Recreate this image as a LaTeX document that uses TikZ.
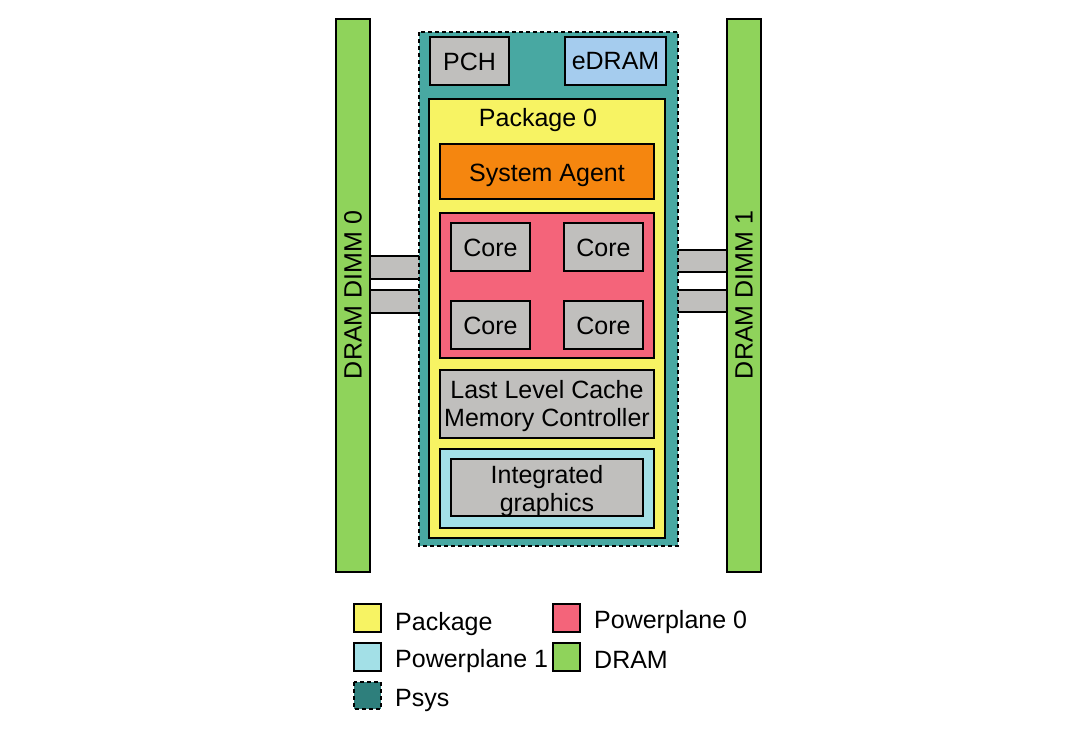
\documentclass[tikz,border=0pt]{standalone}
\usepackage{fontspec}
\setmainfont{Liberation Sans}
\begin{document}
\begin{tikzpicture}[x=1pt,y=-1pt,
  lbl/.style={font=\fontsize{25}{28}\selectfont, inner sep=0pt},
  box/.style={draw=black, line width=1.6pt, inner sep=0pt},
  psysbox/.style={draw=black, line width=1.6pt, dash pattern=on 4pt off 3pt},
]
\definecolor{dramg}{HTML}{8FD35B}
\definecolor{psyst}{HTML}{48A8A2}
\definecolor{psysd}{HTML}{2E7F7C}
\definecolor{pkgy}{HTML}{F7F363}
\definecolor{orng}{HTML}{F5860F}
\definecolor{redp}{HTML}{F4647A}
\definecolor{gry}{HTML}{C0BFBD}
\definecolor{edb}{HTML}{A5CCEE}
\definecolor{cyn}{HTML}{A3E0E7}
\useasboundingbox (0,0) rectangle (1070,728);
% connectors (behind)
\foreach \ya/\yb in {256/279,290/313}{
  \fill[gry] (370,\ya) rectangle (419,\yb);
  \draw[line width=1.6pt] (370,\ya) -- (419,\ya) (370,\yb) -- (419,\yb);
}
\foreach \ya/\yb in {250/272,290/312}{
  \fill[gry] (678,\ya) rectangle (727,\yb);
  \draw[line width=1.6pt] (678,\ya) -- (727,\ya) (678,\yb) -- (727,\yb);
}
% DRAM bars
\draw[box, fill=dramg] (336,19) rectangle (370,572);
\node[lbl, rotate=90] (d0) at (353,295) {DRAM DIMM 0};
\draw[box, fill=dramg] (727,19) rectangle (761,572);
\node[lbl, rotate=90] (d1) at (744,295) {DRAM DIMM 1};
% Psys
\fill[psyst] (419,32) rectangle (678,546);
\draw[psysbox] (419,32) rectangle (678,546);
\draw[box, fill=gry] (430,37) rectangle (509,85);
\node[lbl] (pch) at (469.5,61.5) {PCH};
\draw[box, fill=edb] (565,37) rectangle (666,85);
\node[lbl] (edram) at (615.5,61.5) {eDRAM};
% Package
\draw[box, fill=pkgy] (429,99) rectangle (665,538);
\node[lbl] (pkg) at (538,120) {Package 0};
\draw[box, fill=orng] (440,144) rectangle (654,199);
\node[lbl] (sa) at (547,175) {System Agent};
\draw[box, fill=redp] (440,213) rectangle (654,358);
\draw[box, fill=gry] (451,223) rectangle (530,271);
\node[lbl] (c1) at (490.5,248) {Core};
\draw[box, fill=gry] (564,223) rectangle (643,271);
\node[lbl] (c2) at (603.5,248) {Core};
\draw[box, fill=gry] (451,301) rectangle (530,349);
\node[lbl] (c3) at (490.5,326) {Core};
\draw[box, fill=gry] (564,301) rectangle (643,349);
\node[lbl] (c4) at (603.5,326) {Core};
\draw[box, fill=gry] (440,370) rectangle (654,438);
\node[lbl, align=center] (llc) at (547,406) {Last Level Cache\\Memory Controller};
\draw[box, fill=cyn] (440,449) rectangle (654,528);
\draw[box, fill=gry] (451,459) rectangle (643,516);
\node[lbl, align=center] (ig) at (547,491) {Integrated\\graphics};
% Legend
\draw[box, fill=pkgy] (354,604) rectangle (381,632);
\node[lbl, anchor=west] (l1) at (395,624) {Package};
\draw[box, fill=redp] (553,604) rectangle (580,632);
\node[lbl, anchor=west] (l2) at (594,622) {Powerplane 0};
\draw[box, fill=cyn] (354,643) rectangle (381,671);
\node[lbl, anchor=west] (l3) at (395,661) {Powerplane 1};
\draw[box, fill=dramg] (553,643) rectangle (580,671);
\node[lbl, anchor=west] (l4) at (594,660) {DRAM};
\fill[psysd] (354,682) rectangle (381,709);
\draw[psysbox] (354,682) rectangle (381,709);
\node[lbl, anchor=west] (l5) at (395,700) {Psys};
\end{tikzpicture}
\end{document}
